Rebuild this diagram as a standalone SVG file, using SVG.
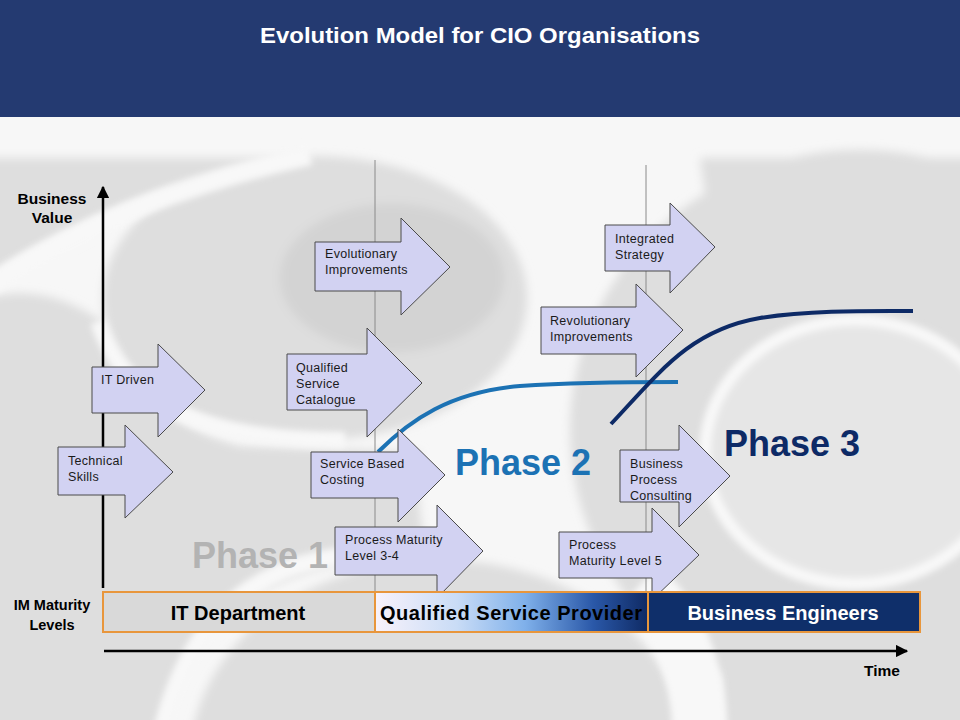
<svg xmlns="http://www.w3.org/2000/svg" width="960" height="720" viewBox="0 0 960 720">
  <defs>
    <style>
      .arrow { fill: #d2d2f2; stroke: #4a4a4a; stroke-width: 1; }
      .atext { font-family: "Liberation Sans", Arial, sans-serif; font-size: 12.5px; fill: #1a1a1a; letter-spacing: 0.3px; }
      .label { font-family: "Liberation Sans", Arial, sans-serif; font-weight: bold; fill: #000; }
      .phase { font-family: "Liberation Sans", Arial, sans-serif; font-weight: bold; font-size: 36px; }
      .bartext { font-family: "Liberation Sans", Arial, sans-serif; font-weight: bold; font-size: 20px; text-anchor: middle; }
      .seg { stroke: #e8963c; stroke-width: 2; }
      .vline { stroke: #8a8a8a; stroke-width: 1; }
      .grey { fill: #dedede; }
      .wband { fill: none; stroke: #f8f8f8; }
    </style>
    <linearGradient id="qsp" x1="0" y1="0" x2="1" y2="0">
      <stop offset="0" stop-color="#f8f2fb"/>
      <stop offset="0.3" stop-color="#c9dcf6"/>
      <stop offset="0.55" stop-color="#7fb0ea"/>
      <stop offset="0.8" stop-color="#2a58a8"/>
      <stop offset="1" stop-color="#0f2a64"/>
    </linearGradient>
    <filter id="soft" filterUnits="userSpaceOnUse" x="-100" y="0" width="1160" height="820">
      <feGaussianBlur stdDeviation="5"/>
    </filter>
    <filter id="soft2" filterUnits="userSpaceOnUse" x="-100" y="0" width="1160" height="820">
      <feGaussianBlur stdDeviation="3"/>
    </filter>
    <clipPath id="bgclip">
      <rect x="0" y="117" width="960" height="603"/>
    </clipPath>
    <marker id="ah" viewBox="0 0 10 10" refX="9" refY="5" markerWidth="5" markerHeight="5" orient="auto">
      <path d="M0,0 L10,5 L0,10 z" fill="#000"/>
    </marker>
  </defs>

  <!-- background -->
  <rect x="0" y="0" width="960" height="720" fill="#f7f7f7"/>
  <g id="background-swirl" clip-path="url(#bgclip)">
    <g filter="url(#soft)">
      <!-- top-left corner piece -->
      <path class="grey" d="M-20,158 L290,158 Q130,190 -20,280 Z"/>
      <!-- disc A -->
      <ellipse class="grey" cx="315" cy="298" rx="212" ry="142"/>
      <ellipse cx="392" cy="278" rx="112" ry="74" fill="#d3d3d3"/>
      <!-- left / phase-1 region -->
      <path class="grey" d="M-20,300 Q40,280 100,320 Q140,420 240,446 L420,452 Q415,520 430,552 Q290,560 215,620 Q175,670 160,740 L-20,740 Z"/>
      <!-- disc B bottom -->
      <ellipse class="grey" cx="440" cy="760" rx="250" ry="200"/>
      <!-- disc C right -->
      <ellipse class="grey" cx="860" cy="430" rx="290" ry="280"/>
      <rect class="grey" x="720" y="560" width="260" height="180"/>
      <path class="grey" d="M700,158 L980,158 L980,300 L720,300 Z"/>
    </g>
    <!-- white bands -->
    <g filter="url(#soft2)">
      <path class="wband" stroke-width="20" d="M-20,292 Q110,200 310,155"/>
      <path class="wband" stroke-width="16" d="M98,322 C125,400 190,440 345,440"/>
      <path class="wband" stroke-width="18" d="M160,740 Q190,600 300,565 Q360,548 440,552"/>
      <path class="wband" stroke-width="55" d="M640,585 Q700,640 700,740"/>
      <ellipse cx="855" cy="452" rx="150" ry="132" fill="#e6e6e6" stroke="#f8f8f8" stroke-width="12"/>
    </g>
  </g>

  <!-- header -->
  <g id="header">
    <rect x="0" y="0" width="960" height="117" fill="#243a71"/>
    <text x="260" y="43" textLength="440" lengthAdjust="spacingAndGlyphs" font-family="'Liberation Sans', Arial, sans-serif" font-weight="bold" font-size="22" fill="#ffffff">Evolution Model for CIO Organisations</text>
  </g>

  <!-- phase separators -->
  <g id="separators">
    <line class="vline" x1="375" y1="160" x2="375" y2="592"/>
    <line class="vline" x1="646" y1="165" x2="646" y2="592"/>
  </g>

  <!-- curves -->
  <g id="curves">
    <path d="M378,452 C410,420 450,392 520,386 C580,382 640,382 678,382" fill="none" stroke="#1c72b4" stroke-width="4"/>
    <path d="M611,424 C660,372 690,330 760,318 C810,310 870,311 913,311" fill="none" stroke="#0d2a66" stroke-width="4"/>
  </g>

  <!-- axes -->
  <g id="connectors">
    <line x1="103" y1="588" x2="103" y2="187" stroke="#000" stroke-width="2.5" marker-end="url(#ah)"/>
    <line x1="104" y1="651" x2="907" y2="651" stroke="#000" stroke-width="2.5" marker-end="url(#ah)"/>
  </g>

  <!-- axis labels -->
  <g id="axis-labels">
    <text class="label" font-size="15.5" text-anchor="middle" x="52" y="204">Business</text>
    <text class="label" font-size="15.5" text-anchor="middle" x="52" y="223">Value</text>
    <text class="label" font-size="14.5" text-anchor="middle" x="52" y="610">IM Maturity</text>
    <text class="label" font-size="14.5" text-anchor="middle" x="52" y="630">Levels</text>
    <text class="label" font-size="15.5" text-anchor="middle" x="882" y="676">Time</text>
  </g>

  <!-- phase labels -->
  <g id="phase-labels">
    <text class="phase" x="192" y="568" fill="#b3b3b3">Phase 1</text>
    <text class="phase" x="455" y="475" fill="#1c72b4">Phase 2</text>
    <text class="phase" x="724" y="456" fill="#0d2a66">Phase 3</text>
  </g>

  <!-- arrows -->
  <g id="technical-skills">
    <polygon class="arrow" points="58,447 125,447 125,425 173,472 125,518 125,495 58,495"/>
    <text class="atext" x="68" y="465">Technical</text>
    <text class="atext" x="68" y="481">Skills</text>
  </g>
  <g id="it-driven">
    <polygon class="arrow" points="92,367 158,367 158,344 205,390 158,437 158,413 92,413"/>
    <text class="atext" x="101" y="384">IT Driven</text>
  </g>
  <g id="evolutionary-improvements">
    <polygon class="arrow" points="315,242 401,242 401,218 450,267 401,315 401,291 315,291"/>
    <text class="atext" x="325" y="258">Evolutionary</text>
    <text class="atext" x="325" y="274">Improvements</text>
  </g>
  <g id="qualified-service-catalogue">
    <polygon class="arrow" points="287,354 367,354 367,328 422,383 367,437 367,410 287,410"/>
    <text class="atext" x="296" y="372">Qualified</text>
    <text class="atext" x="296" y="388">Service</text>
    <text class="atext" x="296" y="404">Catalogue</text>
  </g>
  <g id="service-based-costing">
    <polygon class="arrow" points="311,452 398,452 398,429 445,475 398,522 398,498 311,498"/>
    <text class="atext" x="320" y="468">Service Based</text>
    <text class="atext" x="320" y="484">Costing</text>
  </g>
  <g id="process-maturity-3-4">
    <polygon class="arrow" points="335,527 437,527 437,505 483,551 437,598 437,575 335,575"/>
    <text class="atext" x="345" y="544">Process Maturity</text>
    <text class="atext" x="345" y="560">Level 3-4</text>
  </g>
  <g id="integrated-strategy">
    <polygon class="arrow" points="605,225 670,225 670,203 715,247 670,293 670,271 605,271"/>
    <text class="atext" x="615" y="243">Integrated</text>
    <text class="atext" x="615" y="259">Strategy</text>
  </g>
  <g id="revolutionary-improvements">
    <polygon class="arrow" points="541,307 636,307 636,284 683,330 636,377 636,354 541,354"/>
    <text class="atext" x="550" y="325">Revolutionary</text>
    <text class="atext" x="550" y="341">Improvements</text>
  </g>
  <g id="business-process-consulting">
    <polygon class="arrow" points="620,450 679,450 679,425 730,476 679,527 679,502 620,502"/>
    <text class="atext" x="630" y="468">Business</text>
    <text class="atext" x="630" y="484">Process</text>
    <text class="atext" x="630" y="500">Consulting</text>
  </g>
  <g id="process-maturity-5">
    <polygon class="arrow" points="559,532 652,532 652,508 699,555 652,600 652,578 559,578"/>
    <text class="atext" x="569" y="549">Process</text>
    <text class="atext" x="569" y="565">Maturity Level 5</text>
  </g>

  <!-- maturity bar -->
  <g id="it-department">
    <rect class="seg" x="103" y="592" width="272" height="40" fill="#d9d9d9"/>
    <text class="bartext" x="238" y="620" fill="#000">IT Department</text>
  </g>
  <g id="qualified-service-provider">
    <rect class="seg" x="375" y="592" width="273" height="40" fill="url(#qsp)"/>
    <text class="bartext" x="511" y="620" fill="#000" textLength="262" lengthAdjust="spacing">Qualified Service Provider</text>
  </g>
  <g id="business-engineers">
    <rect class="seg" x="648" y="592" width="272" height="40" fill="#0f2f6a"/>
    <text class="bartext" x="783" y="620" fill="#ffffff">Business Engineers</text>
  </g>
</svg>
